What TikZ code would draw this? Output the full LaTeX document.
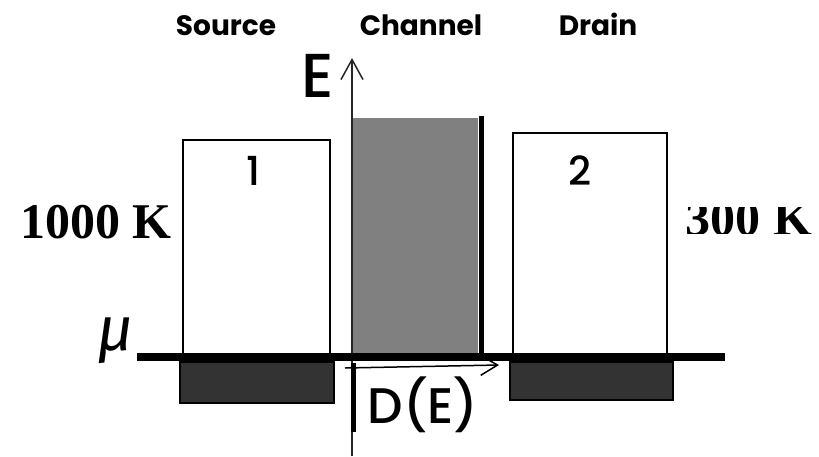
\documentclass[tikz,border=0pt]{standalone}
\usepackage{fontspec}
\setmainfont{Liberation Serif}
\newfontfamily\comic[UprightFont=* Medium, BoldFont=* Bold]{Poppins}
\newfontfamily\greekf{Fira Sans}
\usetikzlibrary{arrows.meta}
\definecolor{chgray}{HTML}{808080}
\definecolor{darkfill}{HTML}{333333}
\tikzset{
  levelbox/.style={draw=black, line width=1.5pt, fill=white},
  filledbox/.style={draw=black, line width=1.5pt, fill=darkfill},
  headlabel/.style={font=\comic\bfseries\fontsize{28}{32}\selectfont, anchor=base},
  bigtext/.style={font=\comic\fontsize{62}{70}\selectfont, anchor=base, inner sep=0pt},
  numtext/.style={font=\comic\fontsize{40}{46}\selectfont, anchor=base, inner sep=0pt},
  templabel/.style={font=\bfseries\fontsize{50}{56}\selectfont, anchor=base, inner sep=0pt},
  axisline/.style={line width=1.5pt, draw=black!85},
}
\begin{document}
\begin{tikzpicture}[x=1pt,y=-1pt]
\useasboundingbox (0,0) rectangle (819,456);
% labels on top
\node[headlabel] (src) at (226,35) {Source};
\node[headlabel] (chn) at (421,35) {Channel};
\node[headlabel] (drn) at (598,35) {Drain};
% source and drain boxes
\node[levelbox, minimum width=147pt, minimum height=215pt, inner sep=0pt] (box1) at (256.5,247.5) {};
\node[levelbox, minimum width=154pt, minimum height=222pt, inner sep=0pt] (box2) at (590,244) {};
\node[numtext] (one) at (253,185) {1};
\node[numtext] (two) at (580,185) {2};
% channel
\fill[chgray] (351,118) rectangle (478,355);
\coordinate (chtop) at (481,116);
\coordinate (chbot) at (481,357);
\draw[line width=5pt] (chtop) -- (chbot);
% E axis
\coordinate (ebot) at (352,456);
\coordinate (etop) at (352,58);
\draw[axisline, -{Straight Barb[length=20pt,width=22pt,line width=1.5pt]}] (ebot) -- (etop);
\node[bigtext] (elab) at (318,97) {E};
% dark boxes below
\node[filledbox, minimum width=154pt, minimum height=41pt, inner sep=0pt] (dk1) at (257,382.5) {};
\node[filledbox, minimum width=163pt, minimum height=38pt, inner sep=0pt] (dk2) at (591.5,381) {};
% mu line
\coordinate (mul) at (137,357);
\coordinate (mur) at (725,357);
\draw[line width=8pt] (mul) -- (mur);
\node[font=\greekf\itshape\fontsize{62}{68}\selectfont, anchor=base, inner sep=0pt] (mu) at (116,350) {μ};
% D(E) axis
\coordinate (dl) at (345,368);
\coordinate (dr) at (499,365);
\draw[line width=1.5pt, -{Straight Barb[length=17pt,width=20pt,line width=1.5pt]}] (dl) -- (dr);
\coordinate (dvt) at (353,363);
\coordinate (dvb) at (353,432);
\draw[line width=5pt] (dvt) -- (dvb);
\node[font=\comic\fontsize{50}{56}\selectfont, anchor=base, inner sep=0pt] (de) at (423,423) {D(E)};
% temperatures
\node[templabel] (t1) at (96,238) {1000 K};
\begin{scope}
\clip (670,207) rectangle (819,233);
\node[templabel] (t2) at (749,235) {300 K};
\end{scope}
\end{tikzpicture}
\end{document}
